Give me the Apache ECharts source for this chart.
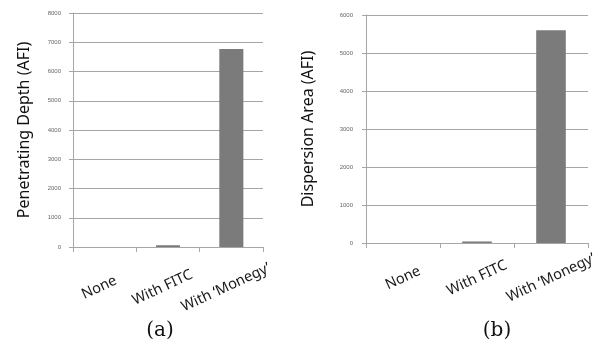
<!DOCTYPE html>
<html>
<head>
<meta charset="utf-8">
<script src="https://cdn.jsdelivr.net/npm/echarts@6/dist/echarts.min.js"></script>
<style>html,body{margin:0;padding:0;background:#fff}#c{width:610px;height:355px}</style>
</head>
<body>
<div id="c"></div>
<script>
const categories = ["None", "With FITC", "With \u2018Monegy\u2019"];
const depthValues = [0, 60, 6770];
const areaValues = [0, 40, 5600];
const depthTicks = [0, 1000, 2000, 3000, 4000, 5000, 6000, 7000, 8000];
const areaTicks = [0, 1000, 2000, 3000, 4000, 5000, 6000];
const panelLabels = ["(a)", "(b)"];
const yTitles = ["Penetrating Depth (AFI)", "Dispersion Area (AFI)"];

const chart = echarts.init(document.getElementById('c'));
const grey = '#a6a6a6';
function xAxis(i){
  return {
    type: 'category', gridIndex: i, data: categories,
    axisLine: {lineStyle: {color: grey, width: 1}},
    axisTick: {show: true, length: 5, lineStyle: {color: grey}},
    axisLabel: {rotate: 25, margin: i === 0 ? 38 : 35, align: 'center', verticalAlign: 'middle',
      padding: i === 0 ? [0, 12, 0, 0] : [0, 0, 0, 0],
      fontSize: 14.5, color: '#1a1a1a', fontFamily: 'Noto Sans'}
  };
}
function yAxis(i, ticks){
  return {
    type: 'value', gridIndex: i, min: ticks[0], max: ticks[ticks.length-1], interval: ticks[1]-ticks[0],
    name: yTitles[i], nameLocation: 'middle', nameGap: i === 0 ? 41 : 50, nameRotate: 90,
    nameTextStyle: {fontSize: 16, color: '#111', fontFamily: 'Noto Sans'},
    axisLine: {show: true, lineStyle: {color: grey}},
    axisTick: {show: true, length: 4, lineStyle: {color: grey}},
    axisLabel: {fontSize: 6, color: '#666', margin: i === 0 ? 12 : 13,
      formatter: v => String(v)},
    splitLine: {show: true, lineStyle: {color: grey, width: 1}}
  };
}
chart.setOption({
  animation: false,
  grid: [
    {left: 73, right: 347, top: 13, bottom: 108},
    {left: 366, right: 22, top: 15, bottom: 112}
  ],
  xAxis: [xAxis(0), xAxis(1)],
  yAxis: [yAxis(0, depthTicks), yAxis(1, areaTicks)],
  series: [
    {type: 'bar', xAxisIndex: 0, yAxisIndex: 0, data: depthValues, barWidth: '38%',
     itemStyle: {color: '#7b7b7b'}},
    {type: 'bar', xAxisIndex: 1, yAxisIndex: 1, data: areaValues, barWidth: '40%',
     itemStyle: {color: '#7b7b7b'}}
  ],
  graphic: [
    {type: 'text', x: 160, y: 331, style: {text: panelLabels[0], fontSize: 20, fontFamily: 'DejaVu Serif', fill: '#111', textAlign: 'center', textVerticalAlign: 'middle'}},
    {type: 'text', x: 497, y: 331, style: {text: panelLabels[1], fontSize: 20, fontFamily: 'DejaVu Serif', fill: '#111', textAlign: 'center', textVerticalAlign: 'middle'}}
  ]
});
</script>
</body>
</html>
